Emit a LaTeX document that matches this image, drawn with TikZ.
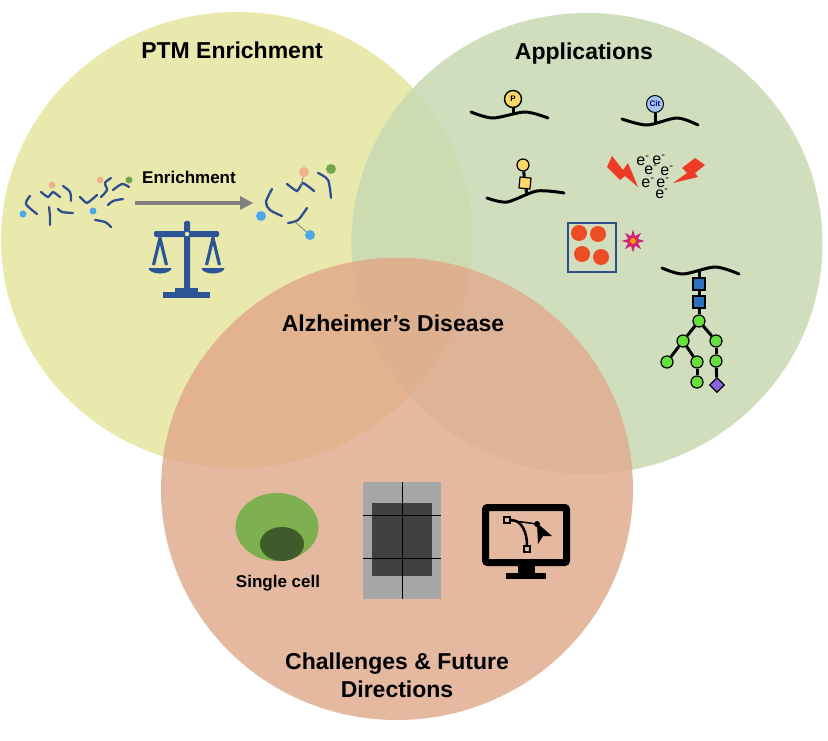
\documentclass[tikz,border=0pt]{standalone}
\usepackage{fontspec}
\setmainfont{Liberation Sans}
\usetikzlibrary{shapes.geometric}
\usetikzlibrary{positioning}
\definecolor{yellowc}{HTML}{E9E9AE}
\definecolor{greenc}{HTML}{D1DEBE}
\definecolor{orangec}{HTML}{E5B8A0}
\definecolor{yellowgreen}{HTML}{CDDBB1}
\definecolor{yelloworange}{HTML}{E3B390}
\definecolor{greenorange}{HTML}{DDB498}
\definecolor{allthree}{HTML}{DDB08F}
\definecolor{pepblue}{HTML}{2F4E8F}
\definecolor{scaleblue}{HTML}{2D5596}
\definecolor{dotblue}{HTML}{4AA8E8}
\definecolor{dotorange}{HTML}{EDB28C}
\definecolor{dotgreen}{HTML}{6FA84B}
\definecolor{cellg}{HTML}{7FB050}
\definecolor{cellk}{HTML}{3F5A2B}
\definecolor{glcg}{HTML}{66E03C}
\definecolor{glnacb}{HTML}{2E6FBF}
\definecolor{fucp}{HTML}{8A63E0}
\definecolor{modyellow}{HTML}{FFD966}
\definecolor{citblue}{HTML}{A4C2F4}
\definecolor{boltred}{HTML}{EE3A24}
\definecolor{spotred}{HTML}{EE4C25}
\tikzset{
  title/.style={font=\bfseries\fontsize{23}{28}\selectfont, align=center},
  small/.style={font=\bfseries\fontsize{17}{19}\selectfont},
  peptide/.style={pepblue, line width=2.3pt, line cap=round},
  wave/.style={black, line width=3pt, line cap=round},
  stem/.style={black, line width=3pt},
  thinstem/.style={gray, line width=0.8pt},
  dotn/.style={circle, inner sep=0pt, minimum size=#1},
  modcircle/.style={circle, draw=black, line width=1.4pt, inner sep=0pt, minimum size=#1},
  glc/.style={circle, draw=black, line width=1.2pt, fill=glcg, inner sep=0pt, minimum size=12pt},
  glnac/.style={rectangle, draw=black, line width=1.2pt, fill=glnacb, inner sep=0pt, minimum size=12pt},
  eminus/.style={font=\fontsize{16}{17}\selectfont, inner sep=0pt},
}
\begin{document}
\begin{tikzpicture}[x=1pt, y=-1pt]
  \useasboundingbox (0,0) rectangle (828,741);
  \def\rY{(237,240) ellipse (236 and 228)}
  \def\rG{(587,243.5) ellipse (235.5 and 230.5)}
  \def\rO{(397,489) ellipse (236 and 231)}

  %circles
  \fill[yellowc] \rY;
  \fill[greenc] \rG;
  \fill[orangec] \rO;
  \begin{scope}
    \clip \rY;
    \fill[yellowgreen] \rG;
    \fill[yelloworange] \rO;
  \end{scope}
  \begin{scope}
    \clip \rG;
    \fill[greenorange] \rO;
    \clip \rY;
    \fill[allthree] \rO;
  \end{scope}

  %titles
  \node[title] (tPTM) at (232,50) {PTM Enrichment};
  \node[title] (tApp) at (584,54) {Applications};
  \node[title] (tAD) at (393,323) {Alzheimer’s Disease};
  \node[title] (tCh) at (397,675) {Challenges \& Future\\Directions};

  %peptides before
  \draw[peptide] plot[smooth] coordinates {(30,196) (26,204) (37,214)};
  \draw[peptide] plot[smooth, tension=.3] coordinates {(41,192) (48,197) (53,192) (60,197)};
  \draw[peptide] plot[smooth] coordinates {(63,186) (70,192) (71,201)};
  \draw[peptide] plot[smooth] coordinates {(49,207) (50,216) (50,225)};
  \draw[peptide] plot[smooth] coordinates {(58,209) (62,212) (73,213)};
  \draw[peptide] plot[smooth, tension=.3] coordinates {(80,197) (87,203) (97,195)};
  \draw[peptide] plot[smooth] coordinates {(111,178) (105,183) (107,190) (101,197)};
  \draw[peptide] plot[smooth] coordinates {(113,190) (122,184) (129,187)};
  \draw[peptide] plot[smooth] coordinates {(108,205) (113,201) (123,199)};
  \draw[peptide] plot[smooth] coordinates {(95,220) (105,222) (111,227)};
  \foreach \name/\x/\y/\col in {a/23/214/dotblue, b/52/185/dotorange, c/93/211/dotblue, d/100/180/dotorange, e/129/180/dotgreen} {
    \node[dotn=7pt, fill=\col] (dot\name) at (\x,\y) {};
  }

  %arrow
  \node[small] (lEnrich) at (189,177) {Enrichment};
  \coordinate (arrS) at (135,203);
  \coordinate (arrE) at (242,203);
  \draw[gray, line width=4.5pt] (arrS) -- (arrE);
  \fill[gray] (240,196) -- (253,203) -- (240,210) -- cycle;

  %peptides after
  \draw[peptide] plot[smooth] coordinates {(272,189) (266,202) (270,210) (282,216)};
  \draw[peptide] plot[smooth, tension=.3] coordinates {(287,184) (297,191) (303,183) (314,191)};
  \draw[peptide] plot[smooth] coordinates {(318,173) (328,180) (331,198)};
  \draw[peptide] plot[smooth] coordinates {(307,208) (298,220) (288,223)};
  \node[dotn=10pt, fill=dotblue] (aBlue1) at (261,216) {};
  \node[dotn=10pt, fill=dotorange] (aOrange) at (304,172) {};
  \node[dotn=10pt, fill=dotgreen] (aGreen) at (331,169) {};
  \node[dotn=10pt, fill=dotblue] (aBlue2) at (310,235) {};
  \coordinate (aJoin) at (295,222);
  \coordinate (bJoin) at (301,186);
  \draw[thinstem] (aJoin) -- (aBlue2);
  \draw[thinstem] (aOrange) -- (bJoin);

  %scales
  \fill[scaleblue, rounded corners=1.5pt] (184,221) rectangle (190,290);
  \fill[scaleblue, rounded corners=2pt] (154,231) rectangle (219,237);
  \fill[scaleblue] (175,288) rectangle (198,293);
  \fill[scaleblue] (163,292) rectangle (210,298);
  \node[dotn=4.5pt, fill=yellowc] (pivot) at (187,234) {};
  \foreach \cx in {160,213} {
    \draw[scaleblue, line width=3.2pt, line join=round] (\cx-6.5,265) -- (\cx,238) -- (\cx+6.5,265);
    \fill[scaleblue] (\cx-11.5,268) arc (180:360:11.5 and -5.5) -- cycle;
  }

  %phospho
  \draw[wave] plot[smooth] coordinates {(471,112) (493,118) (525,112) (548,118)};
  \node[modcircle=17pt, fill=modyellow, font=\bfseries\fontsize{8}{8}\selectfont] (nP) at (513,99) {P};
  \coordinate (sP) at (513,114);
  \draw[stem] (nP) -- (sP);

  %citrulline
  \draw[wave] plot[smooth] coordinates {(622,119) (647,125) (677,118) (698,125)};
  \node[modcircle=17pt, line width=1pt, fill=citblue, text=blue!40!black, font=\bfseries\fontsize{8}{8}\selectfont] (nCit) at (655,104) {Cit};
  \coordinate (sCit) at (655,123);
  \draw[stem] (nCit) -- (sCit);

  %glyco
  \draw[wave] plot[smooth] coordinates {(487,198) (507,202) (537,191) (564,193)};
  \coordinate (sGal) at (527,195);
  \node[modcircle=12pt, fill=modyellow, line width=1.2pt] (nSer) at (523,165) {};
  \node[rectangle, draw=black, line width=1.2pt, rotate=-6, inner sep=0pt, minimum size=11pt, fill=modyellow] (nGal) at (525,183) {};
  \draw[stem] (nSer) -- (nGal);
  \draw[stem] (nGal) -- (sGal);

  %lightning and electrons
  \fill[boltred] (612,156) -- (623,170) -- (628,163) -- (638,187) -- (625,176) -- (620,180) -- (607,167) -- cycle;
  \fill[boltred] (695,158) -- (705,165) -- (695,173) -- (698,177) -- (673,183) -- (687,173) -- (682,168) -- cycle;
  \foreach \i/\x/\y in {1/642/161, 2/658/160, 3/650/170, 4/666/171, 5/647/183, 6/662/183, 7/661/194} {
    \node[eminus] (el\i) at (\x+1,\y) {e\textsuperscript{-}};
  }

  %matrix box
  \draw[pepblue, line width=1.2pt] (568,223) rectangle (616,272);
  \foreach \i/\x/\y in {1/579/233, 2/598/234, 3/582/254, 4/601/257} {
    \node[dotn=16pt, fill=spotred] (spot\i) at (\x,\y) {};
  }
  \node[star, star points=8, star point ratio=2.2, inner sep=0pt, minimum size=23pt, fill=magenta!80!red!85!black] (burst) at (633,241) {};
  \node[dotn=6pt, fill=orange!80!yellow] (burstc) at (633,241) {};

  %glycan
  \draw[wave] plot[smooth] coordinates {(662,268) (683,274) (715,267) (739,274)};
  \coordinate (g0) at (699,271);
  \node[glnac] (g1) at (699,284) {};
  \node[glnac] (g2) at (699,302) {};
  \node[glc] (g3) at (699,321) {};
  \node[glc] (g4) at (683,341) {};
  \node[glc] (g5) at (716,341) {};
  \node[glc] (g6) at (667,362) {};
  \node[glc] (g7) at (697,362) {};
  \node[glc] (g8) at (716,361) {};
  \node[glc] (g9) at (697,382) {};
  \node[diamond, draw=black, line width=1.2pt, fill=fucp, inner sep=0pt, minimum size=15pt] (g10) at (717,385) {};
  \foreach \a/\b in {g0/g1, g1/g2, g2/g3, g3/g4, g3/g5, g4/g6, g4/g7, g5/g8, g7/g9, g8/g10} {
    \draw[stem] (\a) -- (\b);
  }

  %single cell
  \fill[cellg] (277,527) ellipse (41.5 and 34);
  \fill[cellk] (282,544) ellipse (22 and 17);
  \node[small] (lCell) at (278,583) {Single cell};

  %gel
  \fill[black!35] (363,482) rectangle (441,599);
  \fill[black!75] (372,503) rectangle (432,576);
  \draw[black, line width=0.7pt] (402,482) -- (402,599);
  \draw[black, line width=0.7pt] (363,515) -- (441,515);
  \draw[black, line width=0.7pt] (363,558) -- (441,558);

  %monitor
  \draw[black, line width=7pt, rounded corners=2pt] (485.5,507.5) rectangle (566.5,562.5);
  \fill[black] (518,565) rectangle (535,574);
  \fill[black] (506,573) rectangle (546,579);
  \node[rectangle, draw=black, line width=1.5pt, inner sep=0pt, minimum size=6pt] (hA) at (507,520) {};
  \node[rectangle, draw=black, line width=1.5pt, inner sep=0pt, minimum size=6pt] (hB) at (527,549) {};
  \node[dotn=6pt, fill=black] (hC) at (537,524) {};
  \draw[black, line width=1.5pt] (hA) -- (hC);
  \draw[black, line width=2.5pt] (hA) to[out=0, in=90] (hB);
  \fill[black] (537,523) -- (552,536) -- (543,536) -- (538,544) -- cycle;
\end{tikzpicture}
\end{document}
